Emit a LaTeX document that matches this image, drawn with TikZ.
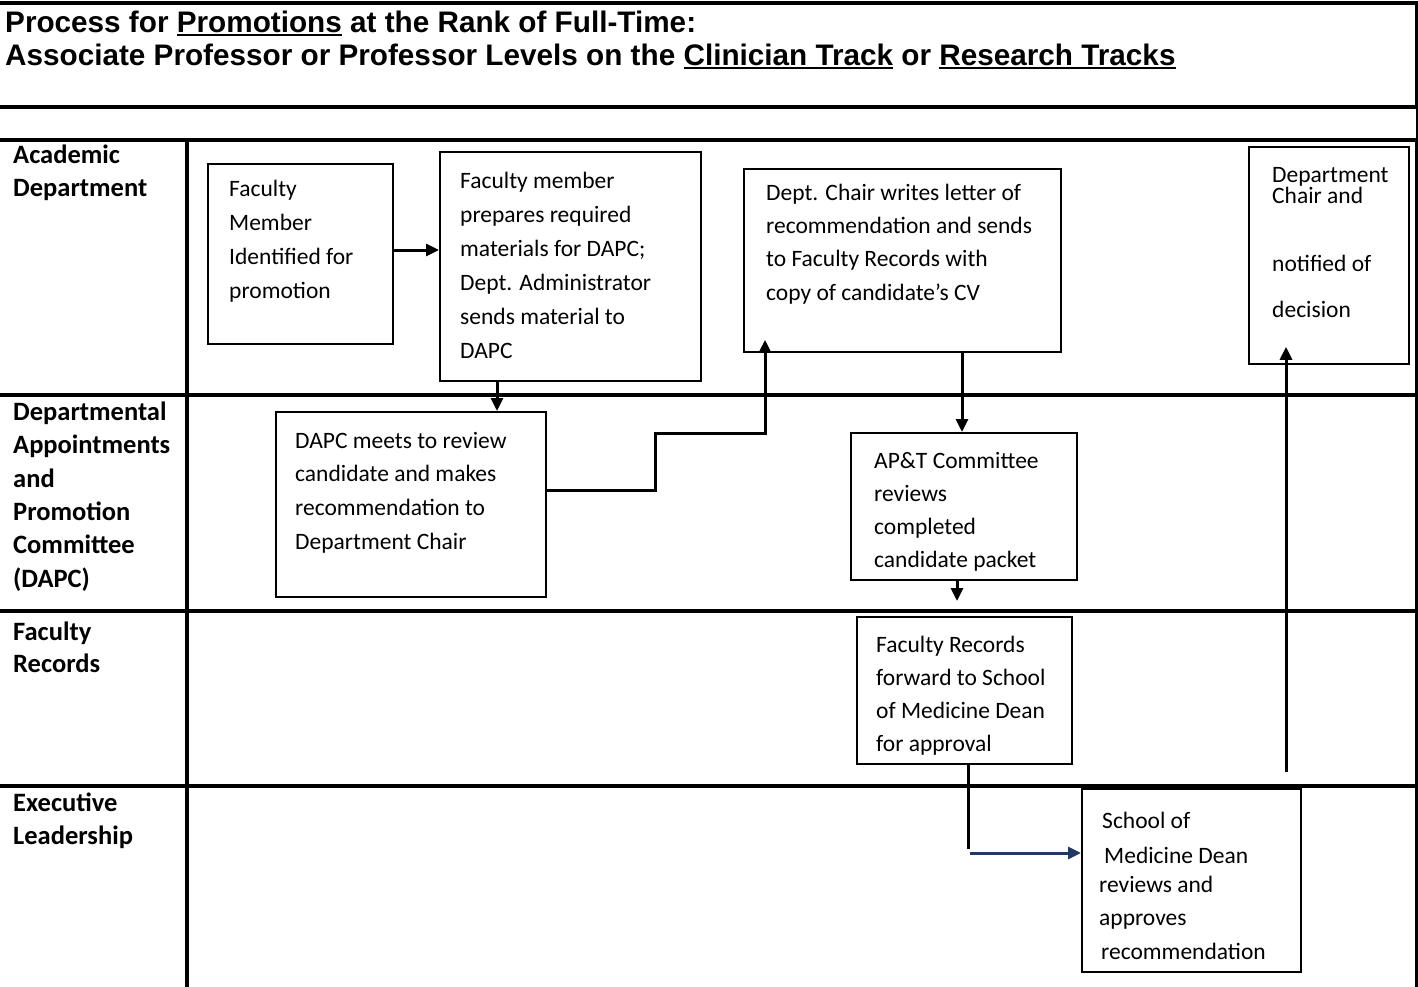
\documentclass[tikz,border=0pt]{standalone}
\usepackage{fontspec}
\setmainfont{Carlito}
\newfontfamily\titlefont{Liberation Sans}
\usetikzlibrary{arrows.meta,calc}
\newcommand\myul[1]{\setbox0\hbox{#1}\rlap{\rule[-4pt]{\wd0}{2.4pt}}\box0\relax}
\newcommand\st[1][20pt]{\rule{0pt}{#1}}
\definecolor{navyarrow}{RGB}{31,56,100}
\begin{document}
\begin{tikzpicture}[x=1pt,y=-1pt,
  box/.style={draw, line width=1.8pt, inner sep=0pt, anchor=north west},
  txt/.style={anchor=north west, inner sep=0pt, align=left, font=\fontsize{23.5}{34}\selectfont},
  lane/.style={anchor=north west, inner sep=0pt, align=left, font=\bfseries\fontsize{26.5}{33.4}\selectfont},
  frameline/.style={line width=4pt},
  laneline/.style={line width=3.5pt},
  conn/.style={line width=3pt, -{Triangle[length=13pt,width=12pt]}},
  plain/.style={line width=3pt},
]
\useasboundingbox (0,0) rectangle (1418,987);

% frame and lanes
\draw[frameline] (0,3) -- (1418,3);
\draw[frameline] (0,107) -- (1418,107);
\draw[line width=3pt] (1416,3) -- (1416,107);
\draw[line width=2pt] (1417,107) -- (1417,140);
\draw[laneline] (0,140) -- (1418,140);
\draw[frameline] (187,140) -- (187,987);
\draw[laneline] (0,395) -- (1416,395);
\draw[laneline] (0,611) -- (1416,611);
\draw[laneline] (0,786) -- (1416,786);
\draw[line width=3pt] (1416,140) -- (1416,987);

% title
\node[anchor=north west, inner sep=0pt, align=left,
  font=\titlefont\bfseries\fontsize{29.7}{33}\selectfont] (title) at (5,4)
  {\st[28pt]Process for \myul{Promotions} at the Rank of Full-Time:\\
   Associate Professor or Professor Levels on the \myul{Clinician Track} or \myul{Research Tracks}};

% lane labels
\node[lane, font=\bfseries\fontsize{26.5}{33}\selectfont] (la) at (13,141) {\st[22pt]Academic\\Department};
\node[lane] (ld) at (13,398) {\st[22pt]Departmental\\Appointments\\and\\Promotion\\Committee\\(DAPC)};
\node[lane, font=\bfseries\fontsize{26.5}{32}\selectfont] (lf) at (13,618) {\st[22pt]Faculty\\Records};
\node[lane, font=\bfseries\fontsize{26.5}{33}\selectfont] (le) at (13,789) {\st[22pt]Executive\\Leadership};

% boxes
\node[box, minimum width=185pt, minimum height=180pt] (b1) at (207,163) {};
\node[txt] (t1) at (229,176) {\st Faculty\\Member\\Identified for\\promotion};

\node[box, minimum width=261pt, minimum height=229pt] (b2) at (439,151) {};
\node[txt] (t2) at (460,168) {\st Faculty member\\prepares required\\materials for DAPC;\\Dept. Administrator\\sends material to\\DAPC};

\node[box, minimum width=317pt, minimum height=183pt] (b3) at (743,168) {};
\node[txt, font=\fontsize{23.5}{33.3}\selectfont] (t3) at (766,180) {\st Dept. Chair writes letter of\\recommendation and sends\\to Faculty Records with\\copy of candidate’s CV};

\node[box, minimum width=160pt, minimum height=217pt] (b4) at (1248,146) {};
\node[txt] (t4) at (1272,162) {\st Department\\[-13pt]Chair and\\[34pt]notified of\\[12pt]decision};

\node[box, minimum width=270pt, minimum height=185pt] (b5) at (275,411) {};
\node[txt, font=\fontsize{23.5}{33.7}\selectfont] (t5) at (295,428) {\st DAPC meets to review\\candidate and makes\\recommendation to\\Department Chair};

\node[box, minimum width=226pt, minimum height=147pt] (b6) at (850,432) {};
\node[txt, font=\fontsize{23.5}{33}\selectfont] (t6) at (874,448) {\st AP\&T Committee\\reviews\\completed\\candidate packet};

\node[box, minimum width=215pt, minimum height=147pt] (b7) at (856,616) {};
\node[txt, font=\fontsize{23.5}{33}\selectfont] (t7) at (876,632) {\st Faculty Records\\forward to School\\of Medicine Dean\\for approval};

\node[box, minimum width=219pt, minimum height=183pt] (b8) at (1081,788) {};
\node[txt] (t8) at (1099,808) {\st\hspace*{3pt}School of\\[1pt]\hspace*{5pt}Medicine Dean\\[-5pt]reviews and\\[-1pt]approves\\\hspace*{2pt}recommendation};

% bend and end coordinates
\coordinate (k1) at (655,490);
\coordinate (k2) at (655,433);
\coordinate (k3) at (765,433);
\coordinate (k5) at (962,400);
\coordinate (k6) at (957,601);
\coordinate (k7) at (968,849);
\coordinate (k8) at (970,853);
\coordinate (k9) at (1286,772);
\coordinate (k10) at (497,395);

% connectors
\draw[conn] (b1.east |- 0,250) -- (b2.west |- 0,250);
\draw[conn] (b2.south -| k10) -- (b5.north -| k10);
\draw[conn] (b5.east |- k1) -- (k1) -- (k2) -- (k3) -- ([yshift=13pt]b3.south -| k3);
\draw[conn] (b3.south -| k5) -- (b6.north -| k5);
\draw[conn] (b6.south -| k6) -- (k6);
\draw[plain] (b7.south -| k7) -- (k7);
\draw[conn, navyarrow] (k8) -- (b8.west |- k8);
\draw[conn] (k9) -- ([yshift=18pt]b4.south -| k9);
\end{tikzpicture}
\end{document}
